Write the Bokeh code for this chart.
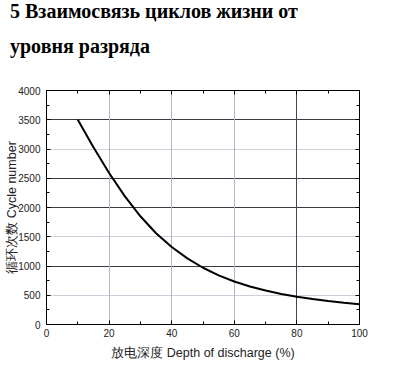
from bokeh.plotting import figure
from bokeh.models import (Range1d, LinearAxis, FixedTicker, Grid, Div)
from bokeh.layouts import column
from bokeh.embed import file_html
from bokeh.resources import INLINE

# ---- data ----
title_lines = ["5 Взаимосвязь циклов жизни от", "уровня разряда"]
x_title = "放电深度 Depth of discharge (%)"
y_title = "循环次数 Cycle number"

dod = [10, 15, 20, 25, 30, 35, 40, 45, 50, 55, 60, 65, 70, 75, 80, 85, 90, 95, 100]
cycles = [3500, 3030, 2590, 2195, 1850, 1560, 1325, 1130, 970, 840, 735, 650, 580,
          522, 474, 434, 400, 371, 346]

x_ticks = [0, 20, 40, 60, 80, 100]
x_minor = [10, 30, 50, 70, 90]
y_ticks = [0, 500, 1000, 1500, 2000, 2500, 3000, 3500, 4000]
y_minor = [250, 750, 1250, 1750, 2250, 2750, 3250, 3750]

y_grid_dark = [1000, 2000, 2500, 3500]
y_grid_light = [500, 1500, 3000]
x_grid_light = [20, 40, 60]
x_grid_dark = [80]

TITLE_H = 72

p = figure(width=394, height=370 - TITLE_H, output_backend="svg", toolbar_location=None,
           x_range=Range1d(0, 100), y_range=Range1d(0, 4000),
           min_border_left=46, min_border_right=35, min_border_top=90 - TITLE_H,
           min_border_bottom=46, x_axis_location=None, y_axis_location=None)
p.outline_line_color = "black"
p.outline_line_width = 1
p.background_fill_color = "white"
p.border_fill_color = "white"
p.xgrid.visible = False
p.ygrid.visible = False

# grids
p.add_layout(Grid(dimension=1, ticker=FixedTicker(ticks=y_grid_dark),
                  grid_line_color="#3a3a44", grid_line_width=1))
p.add_layout(Grid(dimension=1, ticker=FixedTicker(ticks=y_grid_light),
                  grid_line_color="#cfcfdc", grid_line_width=1))
p.add_layout(Grid(dimension=0, ticker=FixedTicker(ticks=x_grid_light),
                  grid_line_color="#b4b4cc", grid_line_width=1))
p.add_layout(Grid(dimension=0, ticker=FixedTicker(ticks=x_grid_dark),
                  grid_line_color="#44445a", grid_line_width=1))

def style_axis(ax, labels=True):
    ax.axis_line_color = "black"
    ax.major_tick_in = 4
    ax.major_tick_out = 0
    ax.minor_tick_in = 3
    ax.minor_tick_out = 0
    ax.major_tick_line_color = "black"
    ax.minor_tick_line_color = "black"
    ax.major_label_text_font = "Liberation Sans"
    ax.major_label_text_font_size = "10px"
    ax.major_label_text_color = "#222222"
    if not labels:
        ax.major_label_text_font_size = "0px"
        ax.major_label_text_alpha = 0

xt = FixedTicker(ticks=x_ticks, minor_ticks=x_minor)
yt = FixedTicker(ticks=y_ticks, minor_ticks=y_minor)

bottom = LinearAxis(ticker=xt, axis_label=x_title)
style_axis(bottom)
bottom.major_label_standoff = 4
bottom.axis_label_text_font = "Liberation Sans"
bottom.axis_label_text_font_size = "12.5px"
bottom.axis_label_text_font_style = "normal"
bottom.axis_label_text_color = "#222222"
bottom.axis_label_standoff = 6
p.add_layout(bottom, "below")

left = LinearAxis(ticker=yt, axis_label=y_title)
style_axis(left)
left.major_label_standoff = 6
left.axis_label_text_font = "Liberation Sans"
left.axis_label_text_font_size = "12.5px"
left.axis_label_text_font_style = "normal"
left.axis_label_text_color = "#222222"
left.axis_label_standoff = -4
p.add_layout(left, "left")

top = LinearAxis(ticker=xt)
style_axis(top, labels=False)
top.major_label_standoff = 0
p.add_layout(top, "above")

right = LinearAxis(ticker=yt)
style_axis(right, labels=False)
right.major_label_standoff = 0
p.add_layout(right, "right")

p.line(dod, cycles, line_color="black", line_width=2)

# title (two lines) above the chart
title_html = (
    '<div style="font-family:\'Liberation Serif\',serif;font-weight:bold;'
    'font-size:20px;line-height:35px;margin:-6px 0 0 10px;padding:0;'
    'color:black;white-space:nowrap;">'
    + title_lines[0] + "<br>" + title_lines[1] + "</div>"
)
title_div = Div(text=title_html, width=394, height=TITLE_H, margin=(0, 0, 0, 0))

layout = column(title_div, p, spacing=0)
open("out.html", "w").write(file_html(layout, INLINE))
